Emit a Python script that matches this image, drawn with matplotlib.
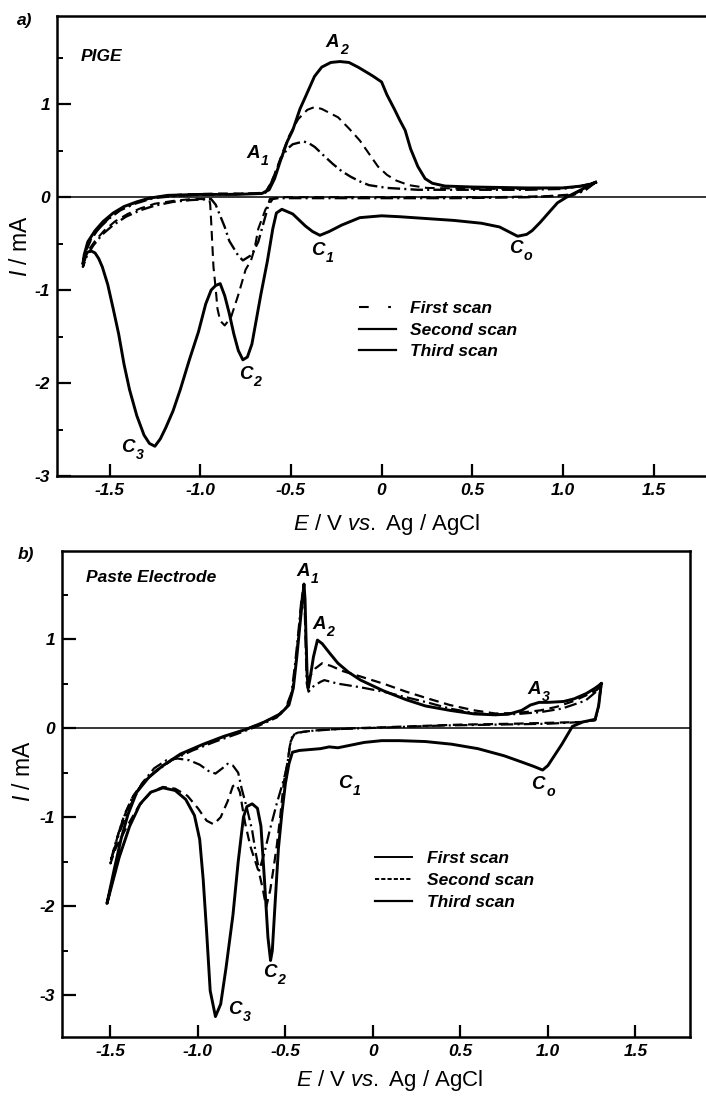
import matplotlib
matplotlib.use("Agg")
import matplotlib.pyplot as plt
from matplotlib.lines import Line2D
from matplotlib.ticker import FixedLocator

plt.rcParams['font.family'] = ['Liberation Sans', 'DejaVu Sans']
plt.rcParams['mathtext.fontset'] = 'custom'
plt.rcParams['mathtext.it'] = 'Liberation Sans:italic'
plt.rcParams['mathtext.rm'] = 'Liberation Sans'
plt.rcParams['axes.unicode_minus'] = False
plt.rcParams['lines.scale_dashes'] = False

# ---------------- data: a) PIGE ----------------
# first scan (dashed)
pige_first_E = [1.18, 1.12, 1.05, 0.9, 0.6, 0.3, 0.0, -0.3, -0.55, -0.60, -0.64, -0.68, -0.70, -0.72, -0.75,
                -0.79, -0.83, -0.865, -0.89, -0.905, -0.914, -0.927, -0.935, -0.94, -0.945, -0.95, -1.05,
                -1.15, -1.25, -1.33, -1.40, -1.47, -1.53, -1.58, -1.62, -1.647,
                -1.63, -1.60, -1.56, -1.50, -1.43, -1.35, -1.25, -1.1, -0.9, -0.7, -0.64, -0.61, -0.58,
                -0.55, -0.51, -0.46, -0.41, -0.37, -0.33, -0.28, -0.24, -0.18, -0.12, -0.07, -0.02, 0.03,
                0.08, 0.15, 0.25, 0.5, 0.8, 1.0, 1.1, 1.18]
pige_first_I = [0.16, 0.08, 0.03, 0.01, 0.0, 0.0, 0.0, 0.0, 0.0, -0.02, -0.13, -0.34, -0.55, -0.68, -0.78,
                -1.05, -1.29, -1.38, -1.33, -1.2, -1.0, -0.75, -0.45, -0.25, -0.08, -0.02, -0.02,
                -0.04, -0.07, -0.12, -0.18, -0.26, -0.36, -0.47, -0.58, -0.74,
                -0.58, -0.45, -0.34, -0.22, -0.12, -0.05, 0.0, 0.03, 0.04, 0.04, 0.06, 0.15, 0.3,
                0.46, 0.66, 0.84, 0.94, 0.97, 0.95, 0.9, 0.86, 0.74, 0.61, 0.47, 0.33, 0.24,
                0.18, 0.13, 0.1, 0.09, 0.09, 0.1, 0.12, 0.16]
# second scan (dash-dot)
pige_second_E = [1.18, 1.12, 1.05, 0.8, 0.4, 0.0, -0.4, -0.58, -0.616, -0.64, -0.68, -0.716, -0.765, -0.79,
                 -0.815, -0.84, -0.865, -0.89, -0.915, -0.94, -1.05, -1.15, -1.25, -1.33, -1.41, -1.48,
                 -1.54, -1.59, -1.625, -1.647,
                 -1.635, -1.61, -1.57, -1.51, -1.44, -1.36, -1.26, -1.1, -0.9, -0.7, -0.64, -0.61, -0.58,
                 -0.554, -0.52, -0.49, -0.45, -0.43, -0.40, -0.368, -0.32, -0.27, -0.22, -0.17, -0.12,
                 -0.07, 0.03, 0.2, 0.5, 0.8, 1.0, 1.1, 1.18]
pige_second_I = [0.16, 0.07, 0.02, 0.0, -0.01, -0.01, -0.01, -0.01, -0.02, -0.2, -0.48, -0.62, -0.68, -0.63,
                 -0.55, -0.47, -0.32, -0.2, -0.08, -0.02, -0.03, -0.05, -0.09, -0.14, -0.21, -0.3,
                 -0.4, -0.52, -0.63, -0.75,
                 -0.6, -0.47, -0.36, -0.24, -0.14, -0.07, -0.01, 0.02, 0.03, 0.04, 0.05, 0.15, 0.29,
                 0.42, 0.52, 0.57, 0.59, 0.6, 0.58, 0.54, 0.45, 0.36, 0.28, 0.22, 0.17,
                 0.13, 0.10, 0.08, 0.08, 0.08, 0.09, 0.12, 0.16]
# third scan (solid)
pige_third_E = [1.18, 1.12, 1.07, 1.02, 0.97, 0.92, 0.875, 0.83, 0.80, 0.75, 0.70, 0.65, 0.55, 0.40, 0.25,
                0.10, 0.0, -0.12, -0.22, -0.29, -0.34, -0.38, -0.42, -0.49, -0.55, -0.58, -0.60, -0.63,
                -0.666, -0.715, -0.74, -0.765, -0.79, -0.815, -0.84, -0.865, -0.89, -0.915, -0.94, -0.97,
                -1.01, -1.06, -1.11, -1.15, -1.19, -1.22, -1.25, -1.28, -1.31, -1.35, -1.39, -1.42, -1.45,
                -1.48, -1.51, -1.54, -1.56, -1.58, -1.60, -1.62, -1.635, -1.647,
                -1.64, -1.62, -1.58, -1.535, -1.48, -1.42, -1.35, -1.28, -1.18, -1.0, -0.8, -0.66, -0.62,
                -0.59, -0.56, -0.52, -0.49, -0.45, -0.42, -0.37, -0.33, -0.28, -0.23, -0.18, -0.13, -0.07,
                -0.045, 0.0, 0.03, 0.07, 0.10, 0.13, 0.16, 0.20, 0.24, 0.28, 0.35, 0.5, 0.8, 1.0, 1.1, 1.15, 1.18]
pige_third_I = [0.16, 0.10, 0.05, 0.0, -0.06, -0.17, -0.27, -0.36, -0.40, -0.42, -0.37, -0.32, -0.28, -0.25, -0.23,
                -0.21, -0.20, -0.22, -0.30, -0.37, -0.41, -0.37, -0.31, -0.18, -0.13, -0.17, -0.34, -0.69,
                -1.05, -1.58, -1.72, -1.75, -1.65, -1.47, -1.25, -1.06, -0.93, -0.95, -1.0, -1.15,
                -1.45, -1.75, -2.07, -2.3, -2.48, -2.6, -2.68, -2.65, -2.56, -2.35, -2.07, -1.8, -1.47,
                -1.2, -0.94, -0.75, -0.66, -0.6, -0.58, -0.59, -0.62, -0.72,
                -0.62, -0.48, -0.36, -0.26, -0.17, -0.1, -0.05, -0.01, 0.02, 0.03, 0.03, 0.04, 0.08,
                0.2, 0.38, 0.6, 0.72, 0.95, 1.08, 1.3, 1.4, 1.45, 1.46, 1.45, 1.40, 1.33,
                1.30, 1.24, 1.10, 0.95, 0.83, 0.72, 0.52, 0.33, 0.20, 0.15, 0.12, 0.11, 0.1, 0.1, 0.12, 0.14, 0.16]

# ---------------- data: b) Paste Electrode ----------------
# first scan (dash-dot)
paste_first_E = [1.3, 1.29, 1.27, 1.2, 1.0, 0.7, 0.4, 0.1, -0.2, -0.35, -0.43, -0.46, -0.475, -0.49, -0.51,
                 -0.55, -0.59, -0.62, -0.65, -0.67, -0.69, -0.72, -0.75, -0.77, -0.80, -0.83, -0.86, -0.90,
                 -0.94, -0.99, -1.05, -1.12, -1.18, -1.25, -1.32, -1.39, -1.45, -1.5,
                 -1.47, -1.43, -1.38, -1.32, -1.25, -1.15, -1.03, -0.9, -0.77, -0.65, -0.55, -0.5, -0.465,
                 -0.445, -0.425, -0.41, -0.398, -0.39, -0.384, -0.378, -0.368, -0.34, -0.30, -0.278, -0.2,
                 -0.072, 0.06, 0.185, 0.31, 0.44, 0.58, 0.70, 0.83, 0.957, 1.08, 1.215, 1.3]
paste_first_I = [0.45, 0.25, 0.09, 0.07, 0.05, 0.04, 0.03, 0.01, -0.01, -0.03, -0.05, -0.08, -0.2, -0.42, -0.58,
                 -0.85, -1.15, -1.4, -1.6, -1.4, -1.15, -0.9, -0.68, -0.5, -0.42, -0.40, -0.45, -0.51,
                 -0.48, -0.41, -0.36, -0.34, -0.36, -0.45, -0.62, -0.88, -1.18, -1.5,
                 -1.28, -1.03, -0.8, -0.63, -0.5, -0.36, -0.25, -0.15, -0.06, 0.03, 0.12, 0.22, 0.4,
                 0.72, 1.1, 1.42, 1.55, 1.35, 0.9, 0.5, 0.41, 0.47, 0.52, 0.54, 0.5,
                 0.46, 0.41, 0.35, 0.29, 0.22, 0.17, 0.15, 0.16, 0.18, 0.22, 0.31, 0.45]
# second scan (dashed)
paste_second_E = [1.305, 1.29, 1.27, 1.2, 1.0, 0.8, 0.5, 0.2, -0.1, -0.3, -0.4, -0.45, -0.47, -0.49, -0.51,
                  -0.53, -0.55, -0.57, -0.587, -0.61, -0.63, -0.65, -0.68, -0.70, -0.73, -0.745, -0.76,
                  -0.78, -0.80, -0.83, -0.87, -0.91, -0.95, -1.0, -1.06, -1.13, -1.2, -1.27, -1.34, -1.41,
                  -1.47, -1.5,
                  -1.46, -1.42, -1.37, -1.31, -1.23, -1.12, -1.0, -0.87, -0.74, -0.63, -0.54, -0.49, -0.46,
                  -0.44, -0.42, -0.405, -0.396, -0.389, -0.383, -0.377, -0.37, -0.355, -0.33, -0.29, -0.24,
                  -0.17, -0.07, 0.06, 0.19, 0.32, 0.44, 0.58, 0.7, 0.82, 0.957, 1.05, 1.14, 1.22, 1.28, 1.305]
paste_second_I = [0.48, 0.25, 0.09, 0.07, 0.06, 0.05, 0.04, 0.02, 0.0, -0.02, -0.04, -0.07, -0.15, -0.4, -0.62,
                  -1.0, -1.33, -1.6, -1.82, -2.01, -1.8, -1.63, -1.45, -1.33, -1.07, -0.9, -0.72,
                  -0.63, -0.65, -0.82, -1.0, -1.08, -1.04, -0.9, -0.76, -0.68, -0.66, -0.72, -0.88, -1.12,
                  -1.35, -1.52,
                  -1.22, -0.97, -0.76, -0.6, -0.46, -0.32, -0.21, -0.11, -0.02, 0.06, 0.15, 0.25, 0.42,
                  0.75, 1.15, 1.48, 1.6, 1.4, 1.0, 0.65, 0.55, 0.6, 0.67, 0.73, 0.7,
                  0.64, 0.58, 0.5, 0.41, 0.33, 0.26, 0.2, 0.165, 0.17, 0.2, 0.24, 0.3, 0.37, 0.43, 0.48]
# third scan (solid)
paste_third_E = [1.305, 1.29, 1.27, 1.2, 1.14, 1.11, 1.08, 1.04, 1.0, 0.97, 0.92, 0.85, 0.75, 0.6, 0.45, 0.3,
                 0.15, 0.05, -0.05, -0.1, -0.15, -0.2, -0.25, -0.3, -0.36, -0.42, -0.46, -0.48, -0.50,
                 -0.52, -0.54, -0.56, -0.575, -0.585, -0.60, -0.62, -0.64, -0.66, -0.69, -0.72, -0.74,
                 -0.77, -0.80, -0.84, -0.87, -0.90, -0.93, -0.95, -0.97, -0.99, -1.02, -1.07, -1.13, -1.2,
                 -1.27, -1.33, -1.39, -1.45, -1.52,
                 -1.48, -1.44, -1.40, -1.35, -1.28, -1.2, -1.1, -0.97, -0.85, -0.72, -0.62, -0.53, -0.48,
                 -0.455, -0.435, -0.415, -0.40, -0.394, -0.388, -0.382, -0.376, -0.37, -0.36, -0.34, -0.317,
                 -0.29, -0.25, -0.2, -0.14, -0.07, 0.06, 0.19, 0.3, 0.44, 0.58, 0.70, 0.78, 0.85, 0.9, 0.95,
                 1.0, 1.09, 1.15, 1.22, 1.27, 1.305]
paste_third_I = [0.50, 0.25, 0.10, 0.07, 0.02, -0.08, -0.18, -0.3, -0.42, -0.47, -0.43, -0.38, -0.31, -0.23, -0.18, -0.15,
                 -0.14, -0.14, -0.16, -0.18, -0.2, -0.22, -0.21, -0.23, -0.24, -0.25, -0.27, -0.4, -0.62,
                 -0.95, -1.35, -2.0, -2.5, -2.61, -2.35, -1.7, -1.1, -0.9, -0.85, -0.88, -1.0,
                 -1.5, -2.1, -2.7, -3.1, -3.24, -2.95, -2.3, -1.7, -1.25, -0.98, -0.8, -0.7, -0.67,
                 -0.72, -0.85, -1.1, -1.45, -1.97,
                 -1.6, -1.25, -0.97, -0.72, -0.55, -0.42, -0.29, -0.18, -0.09, -0.01, 0.07, 0.16, 0.26,
                 0.45, 0.8, 1.2, 1.5, 1.62, 1.45, 1.0, 0.6, 0.45, 0.55, 0.8, 0.99,
                 0.95, 0.85, 0.73, 0.63, 0.54, 0.42, 0.32, 0.25, 0.2, 0.16, 0.15, 0.16, 0.2, 0.26, 0.29,
                 0.29, 0.30, 0.33, 0.39, 0.45, 0.50]

scan_names = ['First scan', 'Second scan', 'Third scan']
xtick_vals = [-1.5, -1.0, -0.5, 0, 0.5, 1.0, 1.5]
xtick_labels = ['-1.5', '-1.0', '-0.5', '0', '0.5', '1.0', '1.5']
ytick_vals = [-3, -2, -1, 0, 1]
ytick_labels = ['-3', '-2', '-1', '0', '1']
ytick_minor = [-2.5, -1.5, -0.5, 0.5, 1.5]

DASHED = (0, (7, 4))
DASHDOT = (0, (9, 3, 1.5, 3))
bi = dict(fontweight='bold', fontstyle='italic')


def peak_label(ax, x, y, main, sub, size=13.5):
    ax.text(x, y, main, ha='center', va='center', fontsize=size, **bi)
    ax.annotate(sub, (x, y), xytext=(size * 0.42, -size * 0.40), textcoords='offset points',
                ha='left', va='center', fontsize=size * 0.75, **bi)


def style_axes(ax, xlim, ylim):
    ax.set_xlim(*xlim)
    ax.set_ylim(*ylim)
    ax.axhline(0, color='k', lw=1.1, zorder=1)
    for s in ax.spines.values():
        s.set_linewidth(1.8)
    ax.set_xticks(xtick_vals)
    ax.set_xticklabels(xtick_labels, fontsize=12.5, **bi)
    ax.set_yticks(ytick_vals)
    ax.set_yticklabels(ytick_labels, fontsize=12.5, **bi)
    ax.yaxis.set_minor_locator(FixedLocator(ytick_minor))
    ax.tick_params(axis='x', direction='in', length=9, width=1.6, pad=5)
    ax.tick_params(axis='y', which='major', direction='in', length=10, width=1.6, pad=5)
    ax.tick_params(axis='y', which='minor', direction='in', length=4, width=1.4)
    ax.tick_params(top=False, right=False)
    ax.set_xlabel(r'$E$ / V $vs.$ Ag / AgCl', fontsize=16)
    ax.set_ylabel(r'$I$ / mA', fontsize=16.5)


fig = plt.figure(figsize=(7.06, 10.96), dpi=100)

# ---------------- a) ----------------
ax1 = fig.add_axes([0.0807, 0.5657, 0.935, 0.4197])
ax1.plot(pige_first_E, pige_first_I, color='k', lw=1.5, ls=DASHED)
ax1.plot(pige_second_E, pige_second_I, color='k', lw=1.7, ls=DASHDOT)
ax1.plot(pige_third_E, pige_third_I, color='k', lw=2.1)
style_axes(ax1, (-1.79, 1.85), (-3.0, 1.95))
ax1.xaxis.set_label_coords(0.50, -0.078)
ax1.yaxis.set_label_coords(-0.038, 0.50)

ax1.text(-1.66, 1.51, 'PIGE', ha='left', va='center', fontsize=12.5, **bi)
peak_label(ax1, -0.27, 1.67, 'A', '2')
peak_label(ax1, -0.71, 0.47, 'A', '1')
peak_label(ax1, -0.35, -0.57, 'C', '1')
peak_label(ax1, 0.74, -0.55, 'C', 'o')
peak_label(ax1, -0.75, -1.91, 'C', '2')
peak_label(ax1, -1.40, -2.69, 'C', '3')

h1 = [Line2D([], [], color='k', lw=1.5, ls=(0, (7, 14, 2, 30))),
      Line2D([], [], color='k', lw=1.6),
      Line2D([], [], color='k', lw=1.6)]
ax1.legend(h1, scan_names, loc='upper left', bbox_to_anchor=(0.445, 0.40), frameon=False,
           borderpad=0, handlelength=2.1, handletextpad=0.8, labelspacing=0.38,
           prop=dict(family='Liberation Sans', weight='bold', style='italic', size=12.5))

# ---------------- b) ----------------
ax2 = fig.add_axes([0.0878, 0.0538, 0.8895, 0.4434])
ax2.plot(paste_first_E, paste_first_I, color='k', lw=1.6, ls=DASHDOT)
ax2.plot(paste_second_E, paste_second_I, color='k', lw=1.6, ls=DASHED)
ax2.plot(paste_third_E, paste_third_I, color='k', lw=2.1)
style_axes(ax2, (-1.777, 1.812), (-3.47, 1.99))
ax2.xaxis.set_label_coords(0.522, -0.064)
ax2.yaxis.set_label_coords(-0.043, 0.547)

ax2.text(-1.64, 1.69, 'Paste Electrode', ha='left', va='center', fontsize=12.5, **bi)
peak_label(ax2, -0.40, 1.76, 'A', '1')
peak_label(ax2, -0.31, 1.16, 'A', '2')
peak_label(ax2, 0.92, 0.43, 'A', '3')
peak_label(ax2, -0.16, -0.62, 'C', '1')
peak_label(ax2, 0.945, -0.63, 'C', 'o')
peak_label(ax2, -0.59, -2.74, 'C', '2')
peak_label(ax2, -0.79, -3.16, 'C', '3')

h2 = [Line2D([], [], color='k', lw=1.4),
      Line2D([], [], color='k', lw=1.4, ls=(0, (3, 1.5))),
      Line2D([], [], color='k', lw=1.6)]
ax2.legend(h2, scan_names, loc='upper left', bbox_to_anchor=(0.485, 0.40), frameon=False,
           borderpad=0, handlelength=2.1, handletextpad=0.9, labelspacing=0.38,
           prop=dict(family='Liberation Sans', weight='bold', style='italic', size=12.5))

fig.text(17 / 706, 1 - 20 / 1096, 'a)', ha='left', va='center', fontsize=12.5, **bi)
fig.text(18 / 706, 1 - 555 / 1096, 'b)', ha='left', va='center', fontsize=12.5, **bi)

fig.savefig('out.png', dpi=100)
